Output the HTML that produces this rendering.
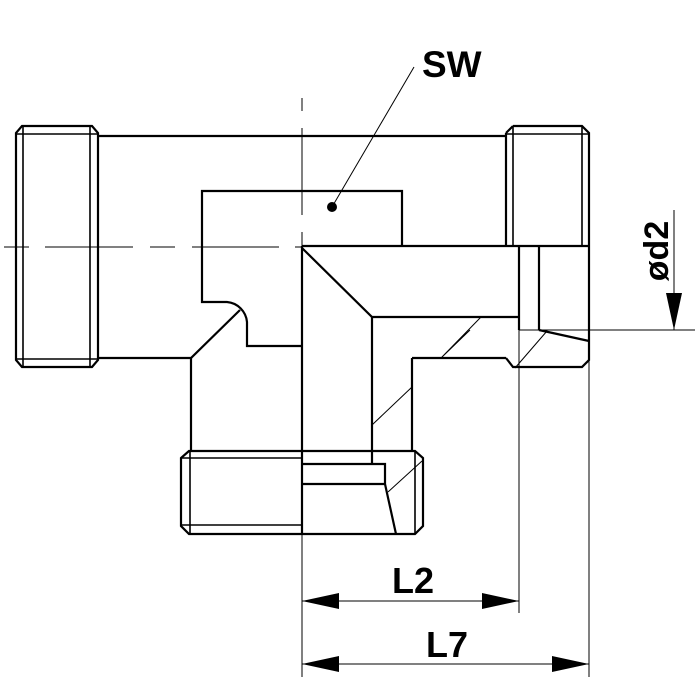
<!DOCTYPE html>
<html><head><meta charset="utf-8"><style>html,body{margin:0;padding:0;background:#fff}svg{display:block}</style></head>
<body>
<svg width="700" height="700" viewBox="0 0 700 700" xmlns="http://www.w3.org/2000/svg">
<g fill="none" stroke="#000" stroke-width="2.2" stroke-linejoin="miter">
<!-- left nut -->
<path d="M22,126 L92,126 L98,133 L98,360 L92,367 L22,367 L16,360 L16,133 Z"/>
<path d="M23,126 V367 M90,126 V367 M16,134 H98 M16,359 H98" stroke-width="1.6"/>
<!-- body outline -->
<path d="M98,136 H506"/>
<path d="M98,358 H191 L240,310"/>
<path d="M191,358 V451"/>
<!-- hex cutout -->
<path d="M302,191 H402 V246 M302,191 H202 V302 H227 A22,22 0 0 1 247,322 V346 H302"/>
<!-- right nut top -->
<path d="M513,126 H582 L589,133 V360 L582,367 H513 L506,358 M506,133 L513,126 M506,133 V246"/>
<path d="M513,126 V246 M582,126 V246 M506,134 H589" stroke-width="1.6"/>
<path d="M539,246 V330 M539,330 L589,341"/>
<path d="M519,246 V330"/>
<!-- section -->
<path d="M302,246 H589"/>
<path d="M302,248 L372,317 H519"/>
<path d="M372,317 V464"/>
<path d="M412,358 H506"/>
<path d="M412,358 V451"/>
<path d="M302,246 V534"/>
<!-- bottom nut -->
<path d="M189,451 H415 L423,458 V526 L415,534 H189 L181,526 V458 Z"/>
<path d="M181,458 H302 M181,525 H302 M190,451 V534 M415,451 V534" stroke-width="1.6"/>
<path d="M302,464 H385 V484 H302 M385,484 L396,534"/>
</g>
<!-- thin lines -->
<g fill="none" stroke="#000" stroke-width="1">
<path d="M442,357 L481,317 M441,358 L470,330 M372,425 L412,387 M388,492 L422,461 M515,368 L547,331"/>
<path d="M519,330 H695"/>
<path d="M519,330 V613 M589,360 V677 M302,534 V677"/>
<path d="M302,601 H519 M302,664 H589"/>
<path d="M674,210 V330"/>
<path d="M332,207 L414,67"/>
<path d="M4,247 H29 M45,247 H133 M150,247 H175 M192,247 H279 M295,247 H302"/>
<path d="M302,98 V111 M302,128 V215 M302,232 V246"/>
</g>
<g fill="#000">
<circle cx="332" cy="207" r="5"/>
<path d="M302,601 L339,593 L339,609 Z M519,601 L482,593 L482,609 Z"/>
<path d="M302,664 L339,656 L339,672 Z M589,664 L552,656 L552,672 Z"/>
<path d="M674,330 L666,293 L682,293 Z"/>
</g>
<g font-family="Liberation Sans, sans-serif" font-weight="bold" fill="#000">
<text x="422" y="77" font-size="37">SW</text>
<text x="392" y="593" font-size="36">L2</text>
<text x="426" y="657" font-size="36">L7</text>
<text transform="translate(668,251) rotate(-90)" text-anchor="middle" font-size="34">ød2</text>
</g>
</svg>
</body></html>
